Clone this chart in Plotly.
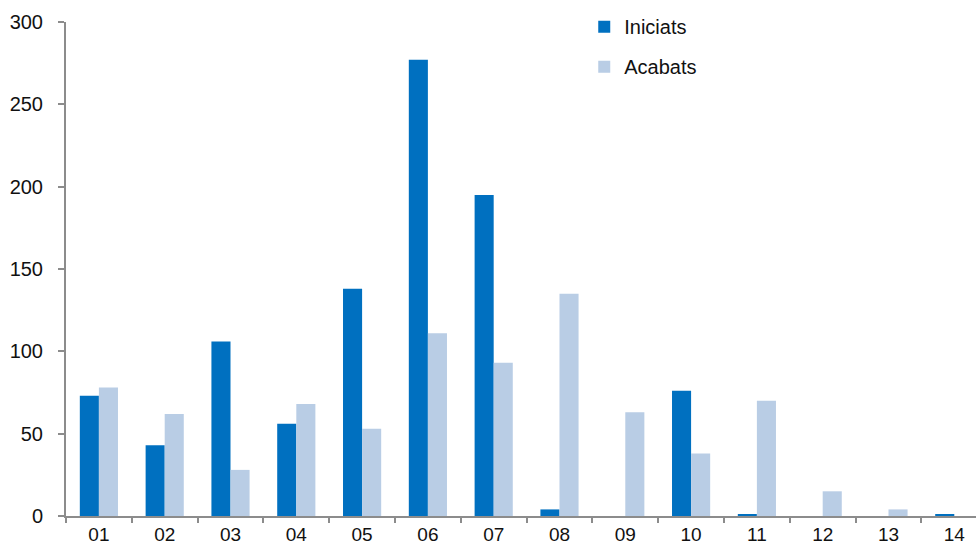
import plotly.graph_objects as go

categories = ["01", "02", "03", "04", "05", "06", "07", "08", "09", "10", "11", "12", "13", "14"]
iniciats = [73, 43, 106, 56, 138, 277, 195, 4, 0, 76, 1, 0, 0, 1]
acabats = [78, 62, 28, 68, 53, 111, 93, 135, 63, 38, 70, 15, 4, 0]
y_ticks = [0, 50, 100, 150, 200, 250, 300]

FONT = "Liberation Sans, Arial, sans-serif"
AXIS_GREY = "#8c8c8c"

fig = go.Figure()
fig.add_trace(go.Bar(
    name="Iniciats", x=categories, y=iniciats,
    marker=dict(color="#0070C0", line=dict(width=0)),
    legendgroup="a",
))
fig.add_trace(go.Bar(
    name="Acabats", x=categories, y=acabats,
    marker=dict(color="#B9CDE5", line=dict(width=0)),
    legendgroup="b",
))

fig.update_layout(
    width=976, height=545,
    margin=dict(l=66, r=0, t=22, b=29, autoexpand=False),
    paper_bgcolor="white", plot_bgcolor="white",
    barmode="group", bargap=0.42, bargroupgap=0,
    font=dict(family=FONT, size=20, color="#111111"),
    legend=dict(
        x=0.5695, y=1.03, xanchor="left", yanchor="top",
        font=dict(size=20), itemwidth=30, tracegroupgap=11,
        bgcolor="rgba(0,0,0,0)",
    ),
    xaxis=dict(
        type="category", range=[-0.5, 13.33], automargin=False,
        showline=True, linecolor=AXIS_GREY, linewidth=2,
        ticks="outside", tickson="boundaries", ticklen=5, tickcolor=AXIS_GREY, tickwidth=2,
        showgrid=False, tickfont=dict(size=19), ticklabelstandoff=0,
    ),
    yaxis=dict(
        range=[0, 300], tickvals=y_ticks, automargin=False,
        showline=True, linecolor=AXIS_GREY, linewidth=2,
        ticks="outside", ticklen=6, tickcolor=AXIS_GREY, tickwidth=2,
        showgrid=False, zeroline=False, tickfont=dict(size=20),
        ticklabelstandoff=11,
    ),
)

fig.write_html("out.html")
